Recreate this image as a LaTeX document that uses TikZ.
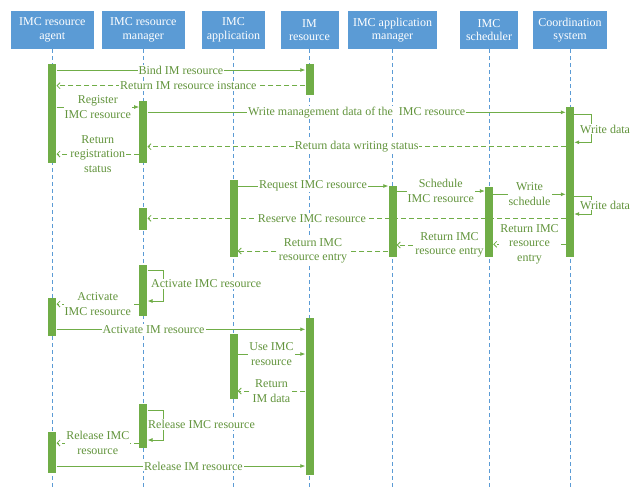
\documentclass[tikz,border=0pt]{standalone}
\usepackage{fontspec}
\setmainfont{Liberation Serif}
\usepackage{tikz}
\usepackage{xcolor}
\usetikzlibrary{arrows.meta,positioning,calc}
\definecolor{boxblue}{RGB}{91,155,213}
\definecolor{bargreen}{RGB}{112,173,71}
\definecolor{textgreen}{RGB}{98,148,60}

\begin{document}
\begin{tikzpicture}[x=1pt,y=-1pt,
  actor/.style={rectangle, fill=boxblue, text=white, minimum height=38.5pt, inner sep=1pt, align=center, font=\fontsize{12}{13.4}\selectfont},
  life/.style={boxblue, dash pattern=on 4pt off 3pt, line width=0.8pt},
  bar/.style={rectangle, fill=bargreen, minimum width=8pt, inner sep=0pt},
  msg/.style={bargreen, line width=0.8pt, -{Latex[length=5pt,width=4pt]}},
  ret/.style={bargreen, line width=0.8pt, dash pattern=on 5pt off 3pt, -{Straight Barb[length=3pt,width=6pt]}},
  lbl/.style={fill=white, text=textgreen, inner sep=1pt, align=center, font=\fontsize{12}{14.5}\selectfont}]
\useasboundingbox (0,0) rectangle (631,488);

\node[actor, minimum width=83pt] (agent) at (52.3,30) {IMC resource\\agent};
\node[actor, minimum width=83pt] (manager) at (143.3,30) {IMC resource\\manager};
\node[actor, minimum width=63pt] (app) at (233.5,30) {IMC\\application};
\node[actor, minimum width=58pt] (imres) at (309.5,30) {IM\\resource};
\node[actor, minimum width=89pt] (appmgr) at (392.5,30) {IMC application\\manager};
\node[actor, minimum width=58pt] (sched) at (489,30) {IMC\\scheduler};
\node[actor, minimum width=74pt] (coord) at (570,30) {Coordination\\system};

\foreach \a in {agent,manager,app,imres,appmgr,sched,coord}
  \draw[life] (\a.south) -- (\a.south |- 0,488);

\node[bar, minimum height=98.4pt] (a1) at (agent |- 0,113.5) {};
\node[bar, minimum height=38.3pt] (a2) at (agent |- 0,316.9) {};
\node[bar, minimum height=40.4pt] (a3) at (agent |- 0,452.5) {};
\node[bar, minimum height=61.7pt] (m1) at (manager |- 0,131.9) {};
\node[bar, minimum height=22pt] (m2) at (manager |- 0,219) {};
\node[bar, minimum height=51.3pt] (m3) at (manager |- 0,290.4) {};
\node[bar, minimum height=43.7pt] (m4) at (manager |- 0,425.9) {};
\node[bar, minimum height=76.7pt] (p1) at (app |- 0,218.4) {};
\node[bar, minimum height=64.7pt] (p2) at (app |- 0,366.4) {};
\node[bar, minimum height=31pt] (i1) at (imres |- 0,79.5) {};
\node[bar, minimum height=156.7pt] (i2) at (imres |- 0,396.7) {};
\node[bar, minimum height=70.7pt] (q1) at (appmgr |- 0,221.4) {};
\node[bar, minimum height=70.6pt] (s1) at (sched |- 0,222) {};
\node[bar, minimum height=149.4pt] (c1) at (coord |- 0,182) {};

\draw[msg] (a1.east |- 0,70) -- node[lbl] (mBind) {Bind IM resource} (i1.west |- 0,70);
\draw[ret] (i1.west |- 0,85.7) -- node[lbl, pos=0.47] (mInst) {Return IM resource instance} (a1.east |- 0,85.7);
\draw[msg] (a1.east |- 0,107) -- node[lbl] (mReg) {Register\\IMC resource} (m1.west |- 0,107);
\draw[msg] (m1.east |- 0,112.3) -- node[lbl] (mWrite) {Write management data of the~ IMC resource} (c1.west |- 0,112.3);
\draw[msg] (c1.east |- 0,114.3) -- ++(17,0) -- ++(0,28) -- (c1.east |- 0,142.3);
\node[lbl, anchor=west] (sWrite1) at (579,129) {Write data};
\draw[ret] (c1.west |- 0,146.7) -- node[lbl] (mStatus) {Return data writing status} (m1.east |- 0,146.7);
\draw[ret] (m1.west |- 0,154) -- node[lbl] (mRegStat) {Return\\registration\\status} (a1.east |- 0,154);

\draw[msg] (p1.east |- 0,186) -- node[lbl] (mReq) {Request IMC resource} (q1.west |- 0,186);
\draw[msg] (q1.east |- 0,191) -- node[lbl] (mSched) {Schedule\\IMC resource} (s1.west |- 0,191);
\draw[msg] (s1.east |- 0,194.3) -- node[lbl] (mWSched) {Write\\schedule} (c1.west |- 0,194.3);
\draw[msg] (c1.east |- 0,196) -- ++(17,0) -- ++(0,18) -- (c1.east |- 0,214);
\node[lbl, anchor=west] (sWrite2) at (579,205) {Write data};
\draw[ret] (c1.west |- 0,218.3) -- node[lbl, pos=0.607] (mReserve) {Reserve IMC resource} (m2.east |- 0,218.3);
\draw[ret] (c1.west |- 0,244.3) -- node[lbl] (mEntry1) {Return IMC\\resource\\entry} (s1.east |- 0,244.3);
\draw[ret] (s1.west |- 0,245) -- node[lbl, pos=0.4] (mEntry2) {Return IMC\\resource entry} (q1.east |- 0,245);
\draw[ret] (q1.west |- 0,251) -- node[lbl] (mEntry3) {Return IMC\\resource entry} (p1.east |- 0,251);

\draw[msg] (m3.east |- 0,270) -- ++(16,0) -- ++(0,31) -- (m3.east |- 0,301);
\node[lbl, anchor=west] (sAct) at (150,284) {Activate IMC resource};
\draw[ret] (m3.west |- 0,304) -- node[lbl] (mAct) {Activate\\IMC resource} (a2.east |- 0,304);
\draw[msg] (a2.east |- 0,329.3) -- node[lbl, pos=0.39] (mActIM) {Activate IM resource} (i2.west |- 0,329.3);
\draw[msg] (p2.east |- 0,354) -- node[lbl] (mUse) {Use IMC\\resource} (i2.west |- 0,354);
\draw[ret] (i2.west |- 0,391) -- node[lbl] (mData) {Return\\IM data} (p2.east |- 0,391);
\draw[msg] (m4.east |- 0,410) -- ++(16,0) -- ++(0,30) -- (m4.east |- 0,440);
\node[lbl, anchor=west] (sRel) at (147,424.3) {Release IMC resource};
\draw[ret] (m4.west |- 0,443) -- node[lbl] (mRel) {Release IMC\\resource} (a3.east |- 0,443);
\draw[msg] (a3.east |- 0,466) -- node[lbl, pos=0.55] (mRelIM) {Release IM resource} (i2.west |- 0,466);
\end{tikzpicture}
\end{document}
